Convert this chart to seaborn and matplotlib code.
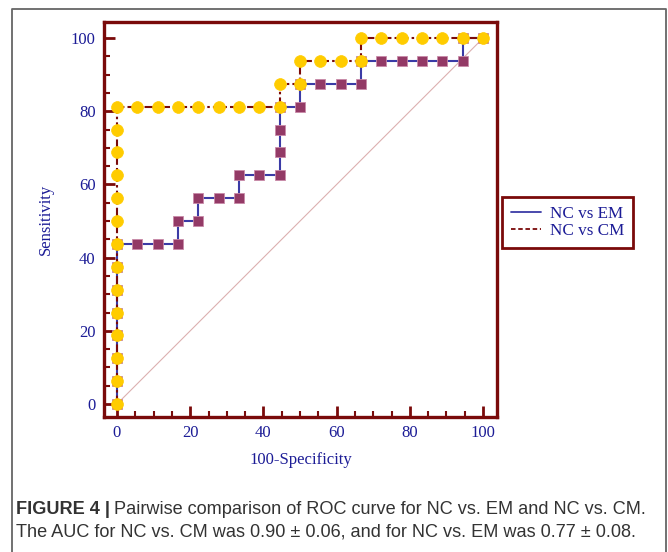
import matplotlib
matplotlib.use("Agg")
import matplotlib.pyplot as plt
import seaborn as sns
import pandas as pd
from matplotlib.lines import Line2D
from matplotlib.ticker import MultipleLocator

# ---- data ----
em_fpr = [0, 0, 0, 0, 0, 0, 0, 0,
          5.56, 11.11, 16.67, 16.67, 22.22, 22.22, 27.78, 33.33, 33.33, 38.89,
          44.44, 44.44, 44.44, 44.44, 50.0, 50.0, 55.56, 61.11, 66.67, 66.67,
          72.22, 77.78, 83.33, 88.89, 94.44, 94.44, 100]
em_tpr = [0, 6.25, 12.5, 18.75, 25, 31.25, 37.5, 43.75,
          43.75, 43.75, 43.75, 50, 50, 56.25, 56.25, 56.25, 62.5, 62.5,
          62.5, 68.75, 75, 81.25, 81.25, 87.5, 87.5, 87.5, 87.5, 93.75,
          93.75, 93.75, 93.75, 93.75, 93.75, 100, 100]

cm_fpr = [0, 0, 0, 0, 0, 0, 0, 0, 0, 0, 0, 0, 0, 0,
          5.56, 11.11, 16.67, 22.22, 27.78, 33.33, 38.89, 44.44,
          44.44, 50.0, 50.0, 55.56, 61.11, 66.67, 66.67,
          72.22, 77.78, 83.33, 88.89, 94.44, 100]
cm_tpr = [0, 6.25, 12.5, 18.75, 25, 31.25, 37.5, 43.75, 50, 56.25, 62.5, 68.75, 75, 81.25,
          81.25, 81.25, 81.25, 81.25, 81.25, 81.25, 81.25, 81.25,
          87.5, 87.5, 93.75, 93.75, 93.75, 93.75, 100,
          100, 100, 100, 100, 100, 100]

diag = [0, 100]
series_names = ["NC vs EM", "NC vs CM"]
x_ticks = [0, 20, 40, 60, 80, 100]
y_ticks = [0, 20, 40, 60, 80, 100]

df_em = pd.DataFrame({"x": em_fpr, "y": em_tpr})
df_cm = pd.DataFrame({"x": cm_fpr, "y": cm_tpr})
df_d = pd.DataFrame({"x": diag, "y": diag})

sns.set_style("white")

DARKRED = "#7a0a0a"
NAVY = "#1c1c96"
BLUE = "#3b3ba6"
PURPLE = "#933a66"
GOLD = "#ffcc00"
serif = ["Liberation Serif", "DejaVu Serif"]

W, H = 668, 552
fig = plt.figure(figsize=(W / 100, H / 100), dpi=100)
fig.patch.set_facecolor("white")

ax = fig.add_axes([104 / W, 1 - 417 / H, (497 - 104) / W, (417 - 22) / H])

sns.lineplot(data=df_d, x="x", y="y", ax=ax, color="#dcb0b0", linewidth=0.8,
             sort=False, estimator=None, zorder=1)
sns.lineplot(data=df_em, x="x", y="y", ax=ax, color=BLUE, linewidth=1.5,
             sort=False, estimator=None, marker="s", markersize=7,
             markerfacecolor=PURPLE, markeredgecolor="#c98aa8", markeredgewidth=0.6,
             zorder=3)
sns.lineplot(data=df_cm, x="x", y="y", ax=ax, color=DARKRED, linewidth=1.5,
             sort=False, estimator=None, marker="o", markersize=8.5,
             markerfacecolor=GOLD, markeredgecolor=GOLD, markeredgewidth=0.5,
             linestyle=(0, (4, 1.5, 1.2, 1.5)), zorder=4)

ax.set_xlim(-3.55, 103.8)
ax.set_ylim(-3.55, 104.4)
ax.set_xticks(x_ticks)
ax.set_yticks(y_ticks)
ax.xaxis.set_minor_locator(MultipleLocator(5))
ax.yaxis.set_minor_locator(MultipleLocator(5))
ax.tick_params(which="major", direction="in", length=8, width=2, color=DARKRED,
               labelcolor=NAVY, labelsize=12, pad=6)
ax.tick_params(which="minor", direction="in", length=4, width=1.5, color=DARKRED)
ax.tick_params(top=False, right=False, which="both")
ax.tick_params(bottom=True, left=True, which="both")
for lab in ax.get_xticklabels() + ax.get_yticklabels():
    lab.set_fontfamily(serif)
for s in ax.spines.values():
    s.set_color(DARKRED)
    s.set_linewidth(2.4)
    s.set_visible(True)

ax.set_xlabel("100-Specificity", fontsize=12, color=NAVY, family=serif, labelpad=8)
ax.set_ylabel("Sensitivity", fontsize=12, color=NAVY, family=serif, labelpad=12)

handles = [Line2D([0], [0], color=BLUE, lw=1.3),
           Line2D([0], [0], color=DARKRED, lw=1.3, linestyle=(0, (2.5, 1.5)))]
leg = fig.legend(handles, series_names, loc="upper left",
                 bbox_to_anchor=(502 / W, 1 - 197 / H), borderaxespad=0,
                 frameon=True, fancybox=False, framealpha=1, edgecolor=DARKRED,
                 prop={"family": serif, "size": 12.3}, handlelength=1.8,
                 handletextpad=0.5, labelspacing=0.1, borderpad=0.5)
leg.get_frame().set_linewidth(2)
for t in leg.get_texts():
    t.set_color(NAVY)

# outer frame
fig.add_artist(Line2D([12.5 / W, 12.5 / W, 665.5 / W, 665.5 / W],
                      [0, 1 - 8.5 / H, 1 - 8.5 / H, 0],
                      transform=fig.transFigure, color="#666666", lw=1.3))

# caption
cap_font = ["Liberation Sans Narrow", "Liberation Sans", "DejaVu Sans"]
CAP = "#333333"
t1 = fig.text(16 / W, 1 - 509 / H, "FIGURE 4 |", fontsize=13.1, fontweight="bold",
              family=cap_font, color=CAP, va="center", ha="left")
fig.canvas.draw()
bb = t1.get_window_extent()
fig.text((bb.x1 + 4) / W, 1 - 509 / H,
         "Pairwise comparison of ROC curve for NC vs. EM and NC vs. CM.",
         fontsize=13.1, family=cap_font, color=CAP, va="center", ha="left")
fig.text(16 / W, 1 - 532 / H,
         "The AUC for NC vs. CM was 0.90 \u00b1 0.06, and for NC vs. EM was 0.77 \u00b1 0.08.",
         fontsize=13.1, family=cap_font, color=CAP, va="center", ha="left")

fig.savefig("out.png", dpi=100)
